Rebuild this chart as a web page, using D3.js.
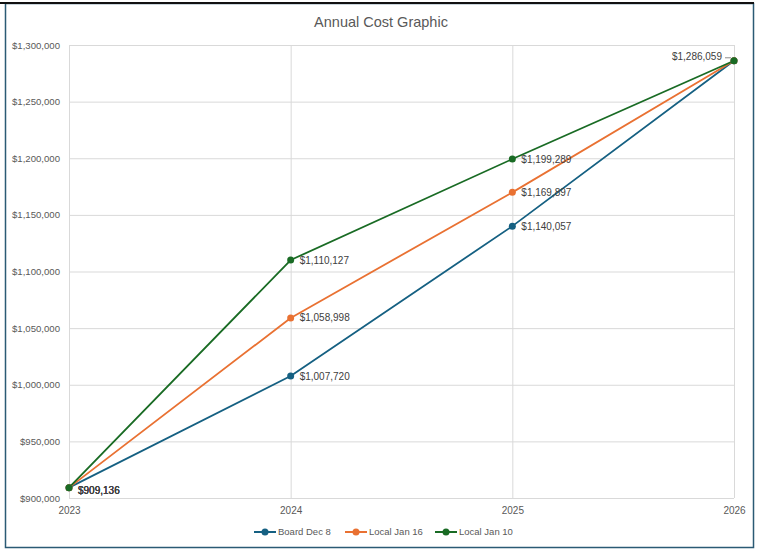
<!DOCTYPE html>
<html>
<head>
<meta charset="utf-8">
<script src="https://cdn.jsdelivr.net/npm/d3@7"></script>
<style>
  html, body { margin: 0; padding: 0; background: #fff; }
  svg { display: block; font-family: "Liberation Sans", Arial, sans-serif; }
</style>
</head>
<body>
<svg id="chart" width="759" height="550"></svg>
<script>
// Years on the category axis
const years = ["2023", "2024", "2025", "2026"];

// Annual cost per scenario
const boardDec8 = [909136, 1007720, 1140057, 1286059];
const localJan16 = [909136, 1058998, 1169897, 1286059];
const localJan10 = [909136, 1110127, 1199289, 1286059];

const seriesNames = ["Board Dec 8", "Local Jan 16", "Local Jan 10"];
const seriesColors = ["#156082", "#E97132", "#196B24"];

// Y axis ticks
const yTicks = [900000, 950000, 1000000, 1050000, 1100000, 1150000, 1200000, 1250000, 1300000];

const series = [
  { name: seriesNames[0], color: seriesColors[0], values: boardDec8 },
  { name: seriesNames[1], color: seriesColors[1], values: localJan16 },
  { name: seriesNames[2], color: seriesColors[2], values: localJan10 }
];

const svg = d3.select("#chart");
const plot = { left: 69, right: 734, top: 45, bottom: 498 };

const x = d3.scalePoint().domain(years).range([plot.left, plot.right]);
const y = d3.scaleLinear().domain([900000, 1300000]).range([plot.bottom, plot.top]);

const money = d3.format("$,.0f");
const textColor = "#595959";
const gridColor = "#d9d9d9";

// Outer frame
svg.append("rect")
  .attr("x", 5.5).attr("y", 3.5).attr("width", 748).attr("height", 544)
  .attr("fill", "#fff").attr("stroke", "#2b5a74").attr("stroke-width", 1.5);
svg.append("line")
  .attr("x1", 0).attr("x2", 754).attr("y1", 3).attr("y2", 3)
  .attr("stroke", "#111").attr("stroke-width", 2);

// Title
svg.append("text")
  .attr("x", 381).attr("y", 27)
  .attr("text-anchor", "middle")
  .attr("fill", textColor)
  .attr("font-size", 14.5)
  .text("Annual Cost Graphic");

// Horizontal gridlines + y labels
const yAxis = d3.axisLeft(y).tickValues(yTicks).tickFormat(money)
  .tickSize(-(plot.right - plot.left)).tickPadding(9);
const gy = svg.append("g").attr("transform", `translate(${plot.left},0)`).call(yAxis);
gy.select(".domain").remove();
gy.selectAll(".tick line").attr("stroke", gridColor).attr("stroke-width", 1);
gy.selectAll(".tick text").attr("fill", textColor).attr("font-size", 9.6)
  .attr("font-family", "Liberation Sans, Arial, sans-serif");

// Vertical gridlines + x labels
const xAxis = d3.axisBottom(x).tickSize(-(plot.bottom - plot.top)).tickPadding(9);
const gx = svg.append("g").attr("transform", `translate(0,${plot.bottom})`).call(xAxis);
gx.select(".domain").remove();
gx.selectAll(".tick line").attr("stroke", gridColor).attr("stroke-width", 1);
gx.selectAll(".tick text").attr("fill", textColor).attr("font-size", 10)
  .attr("font-family", "Liberation Sans, Arial, sans-serif");

// Lines and markers
const line = d3.line().x((d, i) => x(years[i])).y(d => y(d));
series.forEach(s => {
  svg.append("path")
    .datum(s.values)
    .attr("d", line)
    .attr("fill", "none")
    .attr("stroke", s.color)
    .attr("stroke-width", 1.8)
    .attr("stroke-linejoin", "round");
});
series.forEach(s => {
  svg.append("g").selectAll("circle")
    .data(s.values)
    .join("circle")
    .attr("cx", (d, i) => x(years[i]))
    .attr("cy", d => y(d))
    .attr("r", 3.5)
    .attr("fill", s.color);
});

// Data labels
const labelColor = "#404040";
series.forEach(s => {
  s.values.forEach((v, i) => {
    if (i === years.length - 1) return;
    svg.append("text")
      .attr("x", x(years[i]) + 9)
      .attr("y", y(v) + (i === 0 ? 3 : 0))
      .attr("dy", "0.35em")
      .attr("fill", labelColor)
      .attr("font-size", 10)
      .text(money(v));
  });
});
// Final-year label with leader
const lastVal = localJan10[years.length - 1];
const lx = x(years[years.length - 1]);
const ly = y(lastVal);
svg.append("text")
  .attr("x", lx - 12).attr("y", ly - 4)
  .attr("dy", "0.35em")
  .attr("text-anchor", "end")
  .attr("fill", labelColor)
  .attr("font-size", 10)
  .text(money(lastVal));
svg.append("line")
  .attr("x1", lx - 9).attr("x2", lx - 3).attr("y1", ly - 3).attr("y2", ly - 3)
  .attr("stroke", "#8c8c8c").attr("stroke-width", 1);

// Legend
const legendX = [254, 345, 435];
const legendY = 532;
series.forEach((s, i) => {
  const g = svg.append("g").attr("transform", `translate(${legendX[i]},${legendY})`);
  g.append("line").attr("x1", 0).attr("x2", 22).attr("y1", 0).attr("y2", 0)
    .attr("stroke", s.color).attr("stroke-width", 2);
  g.append("circle").attr("cx", 11).attr("cy", 0).attr("r", 3.5).attr("fill", s.color);
  g.append("text").attr("x", 24).attr("y", 0).attr("dy", "0.35em")
    .attr("fill", textColor).attr("font-size", 9.5).text(s.name);
});
</script>
</body>
</html>
